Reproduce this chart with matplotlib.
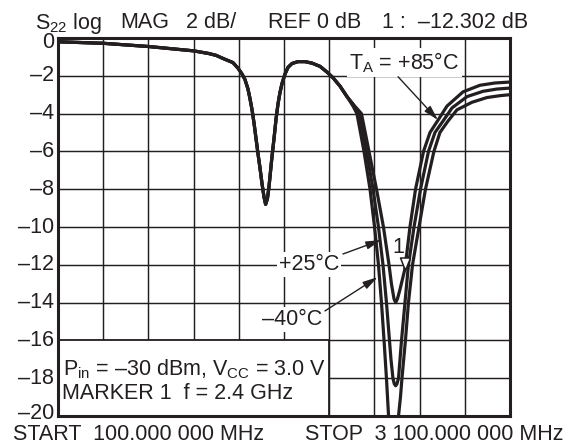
import matplotlib
matplotlib.use('Agg')
import matplotlib.pyplot as plt
from matplotlib.patches import Rectangle
from matplotlib.transforms import ScaledTranslation

plt.rcParams['font.family'] = ['Liberation Sans', 'DejaVu Sans']
plt.rcParams['mathtext.fontset'] = 'custom'
plt.rcParams['mathtext.rm'] = 'Liberation Sans'
plt.rcParams['mathtext.it'] = 'Liberation Sans'
plt.rcParams['mathtext.bf'] = 'Liberation Sans:bold'

# ---------------- data (MHz, dB) ----------------
FREQ_COMMON = [100, 400, 700, 1000, 1100, 1150, 1200, 1261, 1295, 1321, 1341, 1361,
               1374, 1388, 1401, 1414, 1427, 1441, 1454, 1467, 1478, 1490, 1500, 1510,
               1520, 1534, 1547, 1560, 1573, 1587, 1607, 1627, 1653, 1693, 1739, 1786,
               1839, 1885, 1925, 1972]
DB_COMMON = [-0.2, -0.28, -0.45, -0.68, -0.82, -0.92, -1.1, -1.3, -1.6, -1.9, -2.2, -2.7,
             -3.2, -3.8, -4.5, -5.3, -6.1, -6.9, -7.7, -8.4, -8.8, -8.5, -7.9, -7.1,
             -6.3, -5.3, -4.3, -3.5, -2.9, -2.4, -1.9, -1.55, -1.35, -1.25, -1.25, -1.33,
             -1.5, -1.8, -2.1, -2.55]

FREQ_P85 = [2018, 2058, 2114, 2164, 2214, 2260, 2297, 2313, 2330, 2341, 2353, 2370, 2385,
            2400, 2415, 2436, 2473, 2526, 2569, 2622, 2682, 2788, 2901, 3000, 3100]
DB_P85 = [-3.1, -3.5, -4.0, -6.0, -8.0, -10.0, -12.0, -13.0, -13.8, -14.0, -13.8, -13.3, -12.8,
          -12.3, -11.4, -10.0, -8.0, -6.0, -5.0, -4.35, -3.6, -2.85, -2.5, -2.38, -2.33]

FREQ_P25 = [2018, 2058, 2101, 2148, 2191, 2227, 2257, 2280, 2300, 2310, 2323, 2332, 2341,
            2350, 2360, 2370, 2380, 2403, 2426, 2463, 2506, 2559, 2602, 2655, 2715, 2815,
            2921, 3014, 3100]
DB_P25 = [-3.1, -3.5, -4.0, -6.0, -8.0, -10.0, -12.0, -14.0, -16.0, -17.0, -18.0, -18.3, -18.4,
          -18.3, -18.0, -17.0, -16.0, -14.0, -12.0, -10.0, -8.0, -6.0, -5.0, -4.4, -3.7, -3.1,
          -2.82, -2.7, -2.65]

FREQ_M40 = [2018, 2058, 2084, 2131, 2171, 2201, 2227, 2247, 2264, 2280, 2294, 2310, 2327,
            2343, 2360, 2373, 2383, 2406, 2426, 2453, 2496, 2539, 2595, 2635, 2688, 2748,
            2848, 2947, 3034, 3100]
DB_M40 = [-3.1, -3.6, -4.0, -6.0, -8.0, -10.0, -12.0, -14.0, -16.0, -18.0, -20.0, -20.6, -20.9,
          -20.6, -20.0, -19.0, -18.0, -16.0, -14.0, -12.0, -10.0, -8.0, -6.0, -5.0, -4.4, -3.8,
          -3.4, -3.15, -3.05, -3.0]

X_START, X_STOP, X_DIV = 100, 3100, 300
Y_TICKS = [-20, -18, -16, -14, -12, -10, -8, -6, -4, -2, 0]
Y_LABELS = ['–20', '–18', '–16', '–14', '–12', '–10', '–8', '–6', '–4', '–2', '0']
MARKER_F, MARKER_DB = 2400, -12.3

# ---------------- figure ----------------
W, H = 569, 448
fig = plt.figure(figsize=(W / 100, H / 100), dpi=100)
L, R, T, B = 58, 510, 38, 416
ax = fig.add_axes([L / W, 1 - B / H, (R - L) / W, (B - T) / H])
ink = '#231f20'
FS = 15.5

ax.set_xlim(X_START, X_STOP)
ax.set_ylim(-20, 0)
ax.set_xticks(list(range(X_START, X_STOP + 1, X_DIV)))
ax.set_xticklabels([])
ax.set_yticks(Y_TICKS)
ax.set_yticklabels([])
ax.tick_params(length=0, colors=ink)
ax.grid(True, color=ink, lw=1.05)
ax.set_axisbelow(True)
for s in ax.spines.values():
    s.set_linewidth(2.2)
    s.set_color(ink)
    s.set_zorder(5)

# y tick labels (outer two nudged inward as in the reference)
ytrans = ax.get_yaxis_transform() + ScaledTranslation(-4 / 100, 0, fig.dpi_scale_trans)
for i, (v, lab) in enumerate(zip(Y_TICKS, Y_LABELS)):
    t = ytrans
    if i == 0:
        t = ytrans + ScaledTranslation(0, 3 / 100, fig.dpi_scale_trans)
    elif i == len(Y_TICKS) - 1:
        t = ytrans + ScaledTranslation(0, -4.5 / 100, fig.dpi_scale_trans)
    ax.text(0, v, lab, transform=t, fontsize=15.5, color=ink, ha='right', va='center',
            clip_on=False)

for fr, db in [(FREQ_P85, DB_P85), (FREQ_P25, DB_P25), (FREQ_M40, DB_M40)]:
    ax.plot(FREQ_COMMON + fr, DB_COMMON + db, color=ink, lw=2.3,
            solid_joinstyle='round', solid_capstyle='round', zorder=3)

# lower-left info box
ax.add_patch(Rectangle((100, -20), 1800, 4, facecolor='white', edgecolor=ink,
                       lw=1.3, zorder=2))
ax.text(0.012, 0.125, r'P$_{\mathrm{in}}$ = –30 dBm, V$_{\mathrm{CC}}$ = 3.0 V',
        transform=ax.transAxes, fontsize=FS, color=ink, va='center', ha='left', zorder=4)
ax.text(0.008, 0.059, 'MARKER 1  f = 2.4 GHz',
        transform=ax.transAxes, fontsize=FS, color=ink, va='center', ha='left', zorder=4)

# marker
ax.plot(MARKER_F, MARKER_DB, marker=[(0, 0), (-0.4, 1), (0.4, 1), (0, 0)], ms=18,
        mfc='white', mec=ink, mew=1.1, zorder=4, clip_on=False)
ax.text(2357, -11.08, '1', fontsize=FS, color=ink, ha='center', va='center', zorder=4)

# labels with arrows
bb = dict(facecolor='white', edgecolor='none', pad=1.5)
aprops = dict(arrowstyle='-|>,head_length=0.6,head_width=0.16', color=ink, lw=1.0,
              mutation_scale=15, shrinkA=0, shrinkB=0)
ax.text(2400, -1.32, r'T$_{\mathrm{A}}$ = +85°C', fontsize=FS, color=ink,
        ha='center', va='center', bbox=bb, zorder=4)
ax.annotate('', xy=(2622, -4.34), xytext=(2357, -2.05), arrowprops=aprops, zorder=4)
ax.text(1766, -11.98, '+25°C', fontsize=FS, color=ink, ha='center', va='center',
        bbox=bb, zorder=4)
ax.annotate('', xy=(2244, -10.69), xytext=(1991, -11.43), arrowprops=aprops, zorder=4)
ax.text(1656, -14.9, '–40°C', fontsize=FS, color=ink, ha='center', va='center',
        bbox=bb, zorder=4)
ax.annotate('', xy=(2222, -12.65), xytext=(1872, -14.44), arrowprops=aprops, zorder=4)

# header
base = 1 - 28.5 / H
for x, s in [(35, r'S$_{\mathrm{22}}$ log'), (120, 'MAG'), (186, '2 dB/'),
             (268, 'REF 0 dB')]:
    fig.text(x / W, base, s, fontsize=FS, color=ink, ha='left', va='baseline')
fig.text(528 / W, base, '1 :  –12.302 dB', fontsize=FS, color=ink, ha='right',
         va='baseline')

# footer
fig.text(13 / W, 1 - 434 / H, 'START  100.000 000 MHz', fontsize=FS, color=ink,
         ha='left', va='center')
fig.text(305 / W, 1 - 434 / H, 'STOP  3 100.000 000 MHz', fontsize=FS, color=ink,
         ha='left', va='center')

fig.savefig('out.png', dpi=100, facecolor='white')
